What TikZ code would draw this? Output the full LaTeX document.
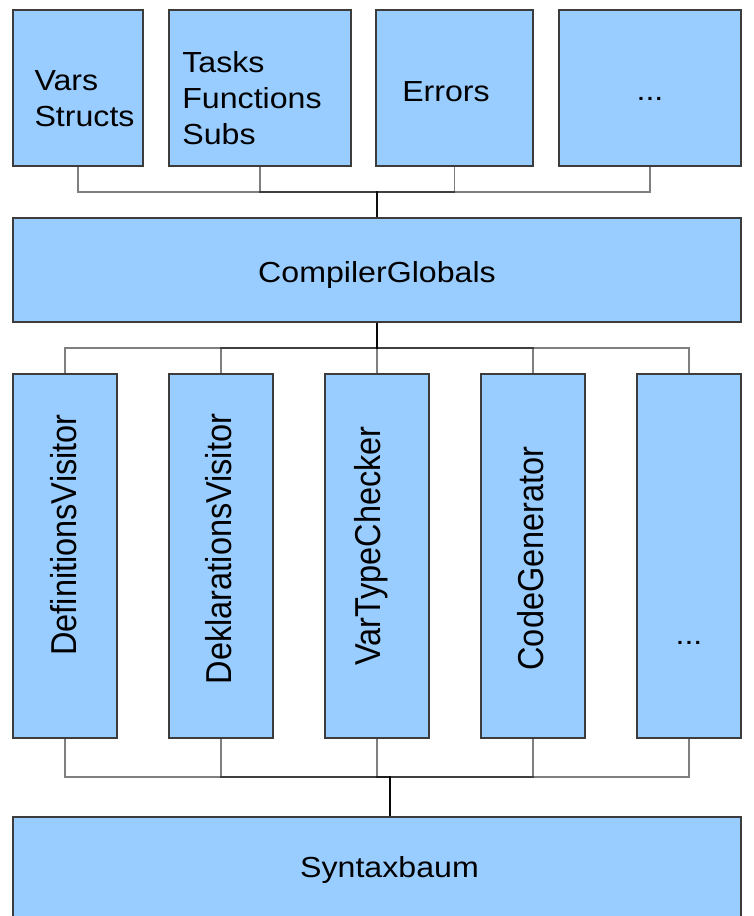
\documentclass[tikz,border=0pt]{standalone}
\usepackage{fontspec}
\setmainfont{Liberation Sans}

\definecolor{boxblue}{HTML}{99CCFF}
\definecolor{boxline}{HTML}{3C3C3C}

\tikzset{
    box/.style={draw=boxline, fill=boxblue, line width=1.3pt, inner sep=0pt},
    link/.style={draw=black, draw opacity=0.5, line width=1.3pt},
    txt/.style={inner sep=0pt, xscale=1.108, font=\fontsize{29}{36}\selectfont},
    vtxt/.style={txt, rotate=90, anchor=base, font=\fontsize{32.5}{39}\selectfont}
}

\begin{document}
\begin{tikzpicture}[x=1pt, y=-1pt]
        \useasboundingbox (0,0) rectangle (754,916);

        % top row
        \node[box, minimum width=130, minimum height=156] (vars) at (78,88) {};
        \node[box, minimum width=182, minimum height=156] (tasks) at (260,88) {};
        \node[box, minimum width=157, minimum height=156] (errors) at (454.5,88) {};
        \node[box, minimum width=182, minimum height=156] (more1) at (650,88) {};
        \node[txt, align=left] (varstxt) at (84.5,98.4) {Vars\\Structs};
        \node[txt, align=left] (taskstxt) at (252,98) {Tasks\\Functions\\Subs};
        \node[txt, anchor=base] (errorstxt) at (446,101) {Errors};
        \node[txt, anchor=base] (more1txt) at (650,100) {...};

        % globals
        \node[box, minimum width=728, minimum height=104] (globals) at (377,270) {};
        \node[txt, anchor=base] (globalstxt) at (377,282) {CompilerGlobals};

        % visitors
        \node[box, minimum width=104, minimum height=364] (defv) at (65,556) {};
        \node[box, minimum width=104, minimum height=364] (dekv) at (221,556) {};
        \node[box, minimum width=104, minimum height=364] (vtc) at (377,556) {};
        \node[box, minimum width=104, minimum height=364] (codegen) at (533,556) {};
        \node[box, minimum width=104, minimum height=364] (more2) at (689,556) {};
        \node[vtxt] (defvtxt) at (76,535) {DefinitionsVisitor};
        \node[vtxt] (dekvtxt) at (231.5,549) {DeklarationsVisitor};
        \node[vtxt] (vtctxt) at (380.5,546) {VarTypeChecker};
        \node[vtxt] (codegentxt) at (543,558.5) {CodeGenerator};
        \node[txt, anchor=base] (more2txt) at (689,644) {...};

        % syntax tree
        \node[box, minimum width=728, minimum height=101] (syntax) at (377,867.5) {};
        \node[txt, anchor=base] (syntaxtxt) at (389.5,877) {Syntaxbaum};

        \coordinate (topbus) at (0,192);
        \coordinate (midbus) at (0,348);
        \coordinate (botbus) at (0,777);
        \coordinate (syntaxin) at ([xshift=13pt]syntax.north);

        % connectors
        \foreach \n in {vars,tasks,errors,more1}
            \draw[link] (\n.south) |- (topbus -| globals.north) -- (globals.north);
        \foreach \n in {defv,dekv,vtc,codegen,more2}
            \draw[link] (globals.south) -- (globals.south |- midbus) -| (\n.north);
        \foreach \n in {defv,dekv,vtc,codegen,more2}
            \draw[link] (\n.south) |- (botbus -| syntaxin) -- (syntaxin);

\end{tikzpicture}
\end{document}
